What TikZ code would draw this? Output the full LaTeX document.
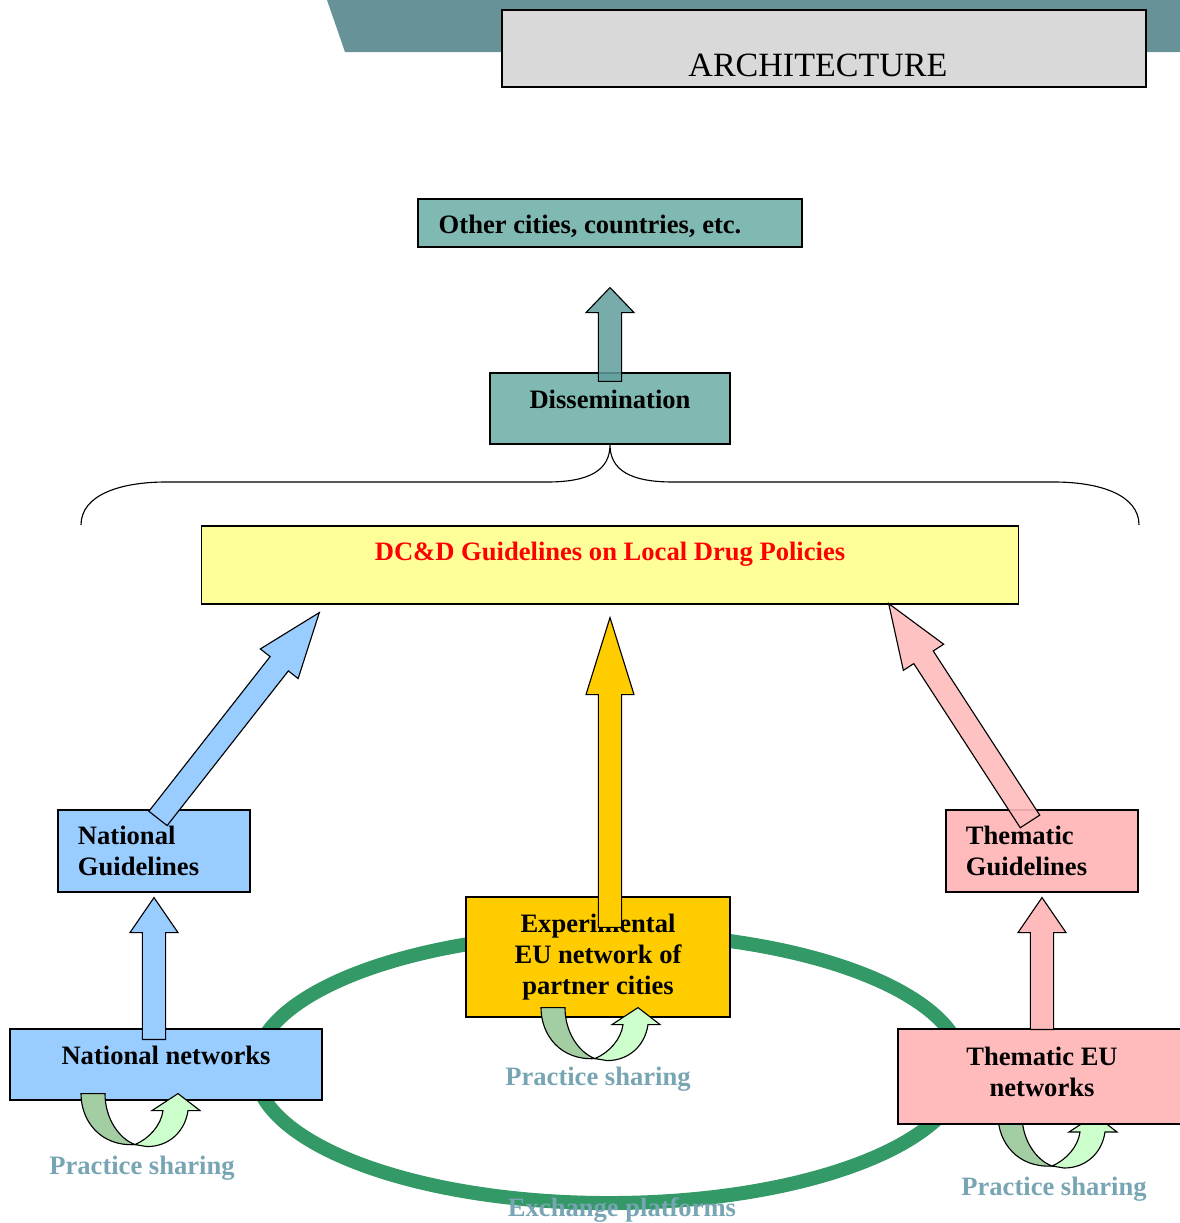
\documentclass[tikz,border=0pt]{standalone}
\usepackage{fontspec}
\setmainfont{Liberation Serif}
\usetikzlibrary{calc,positioning}

\definecolor{bannerteal}{RGB}{102,146,152}
\definecolor{boxteal}{RGB}{128,184,178}
\definecolor{arrowteal}{RGB}{96,158,156}
\definecolor{natblue}{RGB}{153,204,255}
\definecolor{thempink}{RGB}{255,187,187}
\definecolor{guideyellow}{RGB}{255,255,153}
\definecolor{expgold}{RGB}{255,204,0}
\definecolor{ringgreen}{RGB}{51,153,102}
\definecolor{turndark}{RGB}{163,205,163}
\definecolor{turnlight}{RGB}{204,255,204}
\definecolor{sharegrey}{RGB}{120,165,180}
\definecolor{headgrey}{RGB}{217,217,217}

% block arrow: [style]{tail}{tip}{head length}
\newcommand{\fatarrow}[4][]{%
  \coordinate (fa-base) at ($(#3)!#4!(#2)$);
  \draw[#1] ($(#2)!0.29cm!90:(#3)$) -- ($(fa-base)!0.29cm!-90:(#2)$)
    -- ($(fa-base)!0.6cm!-90:(#2)$) -- (#3)
    -- ($(fa-base)!0.6cm!90:(#2)$) -- ($(fa-base)!0.29cm!90:(#2)$)
    -- ($(#2)!0.29cm!-90:(#3)$) -- cycle;}

\begin{document}
\begin{tikzpicture}[x=0.025cm, y=-0.025cm,
  boldtext/.style={font=\bfseries\fontsize{18.9}{22}\selectfont},
  box/.style={draw, line width=0.8pt, inner sep=0pt, align=center, boldtext},
  flow/.style={draw, line width=0.8pt, line join=miter},
  share/.style={boldtext, text=sharegrey},
  pics/uturn/.style={code={
    \filldraw[fill=turndark, line width=0.8pt] (-52,-50) -- (-28,-50)
      .. controls (-28,-25) and (-14,-5) .. (2,1)
      .. controls (-32,3) and (-52,-22) .. (-52,-50) -- cycle;
    \filldraw[fill=turnlight, line width=0.8pt, line join=miter] (2,1)
      .. controls (16,-5) and (28,-18) .. (30,-33) -- (19,-33) -- (45,-50)
      -- (67,-33) -- (55,-33) .. controls (52,-12) and (36,3) .. (14,3) -- cycle;
  }}]
  \useasboundingbox (0,0) rectangle (1179,1223);

  % title bar
  \fill[bannerteal] (327,0) -- (1190,0) -- (1190,52) -- (345,52) -- cycle;
  \node[draw, fill=headgrey, line width=1.4pt, minimum width=16.1cm, minimum height=1.925cm,
    label={[font=\fontsize{24.2}{28}\selectfont, xshift=-4.3pt, yshift=-11.7pt]center:ARCHITECTURE}] (head) at (824,48.5) {};

  % dissemination
  \node[box, fill=boxteal, minimum width=9.6cm, minimum height=1.2cm,
    label={[boldtext, xshift=-14.2pt, yshift=-2.5pt]center:Other cities, countries, etc.}] (other) at (610,223) {};
  \node[box, fill=boxteal, minimum width=6cm, minimum height=1.775cm,
    label={[boldtext, yshift=6.7pt]center:Dissemination}] (dis) at (610,408.5) {};

  \draw[line width=0.8pt] (81,525) .. controls (81,495) and (120,482) .. (166,482) -- (547,482)
    .. controls (590,482) and (610,470) .. (dis.south)
    .. controls (610,470) and (630,482) .. (673,482) -- (1054,482)
    .. controls (1100,482) and (1139,495) .. (1139,525);

  \node[box, fill=guideyellow, minimum width=20.4cm, minimum height=1.95cm,
    label={[boldtext, text=red, yshift=8pt]center:DC\&D Guidelines on Local Drug Policies}] (guide) at (610,565) {};

  % exchange ring
  \draw[ringgreen, line width=0.35cm] (609,1068) ellipse [x radius=8.85cm, y radius=3.375cm];

  % networks
  \node[box, fill=natblue, minimum width=4.8cm, minimum height=2.05cm, text width=3.8cm, align=left] (natguide) at (154,851) {National\\Guidelines};
  \node[box, fill=natblue, minimum width=7.8cm, minimum height=1.775cm,
    label={[boldtext, yshift=6.7pt]center:National networks}] (natnet) at (166,1064.5) {};
  \node[box, fill=expgold, minimum width=6.6cm, minimum height=3cm] (exp) at (598,957) {Experimental\\EU network of\\partner cities};
  \node[box, fill=thempink, minimum width=4.8cm, minimum height=2.05cm, text width=3.8cm, align=left] (themguide) at (1042,851) {Thematic\\Guidelines};
  \pic at ($(1042,1124)+(8,41)$) {uturn};
  \node[box, fill=thempink, minimum width=7.2cm, minimum height=2.375cm,
    label={[boldtext, align=center, yshift=3.5pt]center:Thematic EU\\networks}] (themnet) at (1042,1076.5) {};

  % block arrows
  \coordinate (dis-out) at ($(dis.north)+(0,9)$);
  \coordinate (other-in) at ($(other.south)+(0,40)$);
  \fatarrow[flow, fill=arrowteal, fill opacity=0.85]{dis-out}{other-in}{0.625cm}
  \coordinate (exp-out) at ($(exp.north)+(12,31)$);
  \coordinate (guide-in) at ($(guide.south)+(0,13)$);
  \fatarrow[flow, fill=expgold]{exp-out}{guide-in}{1.925cm}
  \coordinate (natguide-out) at ($(natguide.north)+(4,9)$);
  \coordinate (guide-inl) at ($(guide.south west)+(118,8)$);
  \fatarrow[flow, fill=natblue]{natguide-out}{guide-inl}{1.625cm}
  \coordinate (themguide-out) at ($(themguide.north)+(-12,12)$);
  \coordinate (guide-inr) at ($(guide.south east)+(-130,-1)$);
  \fatarrow[flow, fill=thempink, fill opacity=0.9]{themguide-out}{guide-inr}{1.6cm}
  \coordinate (natnet-out) at ($(natnet.north)+(-12,11)$);
  \coordinate (natguide-in) at ($(natguide.south)+(0,5)$);
  \fatarrow[flow, fill=natblue]{natnet-out}{natguide-in}{0.875cm}
  \coordinate (themnet-out) at ($(themnet.north)+(0,1)$);
  \coordinate (themguide-in) at ($(themguide.south)+(0,5)$);
  \fatarrow[flow, fill=thempink]{themnet-out}{themguide-in}{0.875cm}

  % practice sharing
  \pic at ($(natnet.south)+(-33,43)$) {uturn};
  \pic at ($(exp.south)+(-5,40)$) {uturn};
  \node[share] (share-nat) at ($(natnet.south)+(-24,68)$) {Practice sharing};
  \node[share] (share-exp) at ($(exp.south)+(0,62)$) {Practice sharing};
  \node[share] (share-them) at ($(themnet.south)+(12,65)$) {Practice sharing};
  \node[share] (exchange) at (622,1210) {Exchange platforms};
\end{tikzpicture}
\end{document}
